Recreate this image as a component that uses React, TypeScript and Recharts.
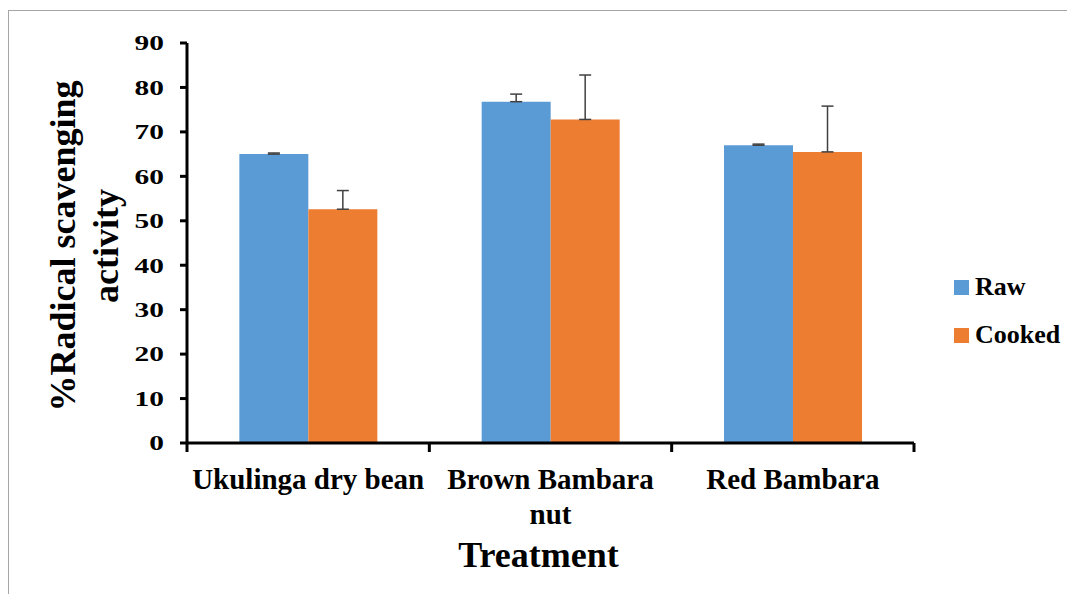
import React from 'react';
import { BarChart, Bar, XAxis, YAxis, Legend, ErrorBar } from 'recharts';

const treatments = ['Ukulinga dry bean', 'Brown Bambara nut', 'Red Bambara'];
// how each category label is broken over lines under the axis
const treatmentLines = [['Ukulinga dry bean'], ['Brown Bambara', 'nut'], ['Red Bambara']];
const seriesNames = ['Raw', 'Cooked'];
const rawValues = [65.0, 76.8, 67.0];
const rawErrors = [0.25, 1.7, 0.25];
const cookedValues = [52.6, 72.8, 65.5];
const cookedErrors = [4.2, 10.0, 10.3];
const yTicks = [0, 10, 20, 30, 40, 50, 60, 70, 80, 90];

// error bars only go up, so the low side is 0
const data = treatments.map((name, i) => ({
  name,
  raw: rawValues[i],
  rawErr: [0, rawErrors[i]],
  cooked: cookedValues[i],
  cookedErr: [0, cookedErrors[i]],
}));

const FONT = '"Liberation Serif", "Times New Roman", Times, serif';
const CHART_W = 1066;
const CHART_H = 583;
const Y_AXIS_W = 60;
const X_AXIS_H = 80;
const MARGIN = { top: 32, right: 161, bottom: 71, left: 118 };
const PLOT_W = CHART_W - MARGIN.left - Y_AXIS_W - MARGIN.right;
const BAND = PLOT_W / treatments.length;

const XTick = (props: any) => {
  const { x, y, index } = props;
  const half = BAND / 2;
  const lines = treatmentLines[index] || [props.payload.value];
  return (
    <g>
      <line x1={x - half} y1={y} x2={x - half} y2={y + 9} stroke="#000" strokeWidth={3} />
      {index === treatments.length - 1 && (
        <line x1={x + half} y1={y} x2={x + half} y2={y + 9} stroke="#000" strokeWidth={3} />
      )}
      <text
        x={x}
        y={y + 46}
        textAnchor="middle"
        fill="#000"
        style={{ fontFamily: FONT, fontSize: 29, fontWeight: 'bold' }}
      >
        {lines.map((line: string, i: number) => (
          <tspan key={line} x={x} dy={i === 0 ? 0 : 35}>
            {line}
          </tspan>
        ))}
      </text>
    </g>
  );
};

const YTick = (props: any) => {
  const { x, y, payload } = props;
  return (
    <g transform={`translate(${x}, ${y}) scale(1.4, 1)`}>
      <text
        x={0}
        y={0}
        dy="0.35em"
        textAnchor="end"
        fill="#000"
        style={{ fontFamily: FONT, fontSize: 21, fontWeight: 'bold' }}
      >
        {payload.value}
      </text>
    </g>
  );
};

const YAxisTitle = (props: any) => {
  const { viewBox } = props;
  const cy = viewBox.y + viewBox.height / 2 + 3;
  return (
    <text
      transform={`translate(66, ${cy}) rotate(-90)`}
      textAnchor="middle"
      fill="#000"
      style={{ fontFamily: FONT, fontSize: 36, fontWeight: 'bold' }}
    >
      <tspan x={0} y={0}>%Radical scavenging</tspan>
      <tspan x={0} y={43}>activity</tspan>
    </text>
  );
};

const XAxisTitle = (props: any) => {
  const { viewBox } = props;
  return (
    <text
      x={viewBox.x + viewBox.width / 2 - 12}
      y={viewBox.y + 124}
      textAnchor="middle"
      fill="#000"
      style={{ fontFamily: FONT, fontSize: 36, fontWeight: 'bold' }}
    >
      Treatment
    </text>
  );
};

const renderLegend = (props: any) => {
  const items = [...props.payload].sort(
    (a: any, b: any) => seriesNames.indexOf(a.value) - seriesNames.indexOf(b.value),
  );
  return (
    <div style={{ display: 'flex', flexDirection: 'column' }}>
      {items.map((entry: any) => (
        <div
          key={entry.value}
          style={{
            display: 'flex',
            alignItems: 'center',
            height: 48,
            fontFamily: FONT,
            fontSize: 26,
            fontWeight: 'bold',
            color: '#000',
          }}
        >
          <span style={{ display: 'inline-block', width: 15, height: 15, background: entry.color, marginRight: 6 }} />
          <span>{entry.value}</span>
        </div>
      ))}
    </div>
  );
};

export default function App() {
  return (
    <div
      style={{
        marginTop: 2,
        width: CHART_W,
        height: CHART_H,
        borderTop: '1px solid #a6a6a6',
        borderLeft: '1px solid #a6a6a6',
        background: '#fff',
      }}
    >
      <BarChart
        width={CHART_W}
        height={CHART_H}
        data={data}
        margin={MARGIN}
        barCategoryGap="21.6%"
        barGap={0}
      >
        <XAxis
          dataKey="name"
          height={X_AXIS_H}
          interval={0}
          tickSize={0}
          tickMargin={0}
          tickLine={false}
          axisLine={{ stroke: '#000', strokeWidth: 3 }}
          tick={<XTick />}
          label={<XAxisTitle />}
        />
        <YAxis
          width={Y_AXIS_W}
          domain={[0, 90]}
          ticks={yTicks}
          interval={0}
          tickSize={7}
          tickMargin={16}
          axisLine={{ stroke: '#000', strokeWidth: 3 }}
          tickLine={{ stroke: '#000', strokeWidth: 3 }}
          tick={<YTick />}
          label={<YAxisTitle />}
        />
        <Legend
          layout="vertical"
          align="center"
          verticalAlign="middle"
          content={renderLegend}
          wrapperStyle={{ left: 945, top: 252, width: 'auto' }}
        />
        <Bar dataKey="raw" name={seriesNames[0]} fill="#5B9BD5" isAnimationActive={false}>
          <ErrorBar dataKey="rawErr" direction="y" width={6} stroke="#404040" strokeWidth={1.5} />
        </Bar>
        <Bar dataKey="cooked" name={seriesNames[1]} fill="#ED7D31" isAnimationActive={false}>
          <ErrorBar dataKey="cookedErr" direction="y" width={6} stroke="#404040" strokeWidth={1.5} />
        </Bar>
      </BarChart>
    </div>
  );
}
